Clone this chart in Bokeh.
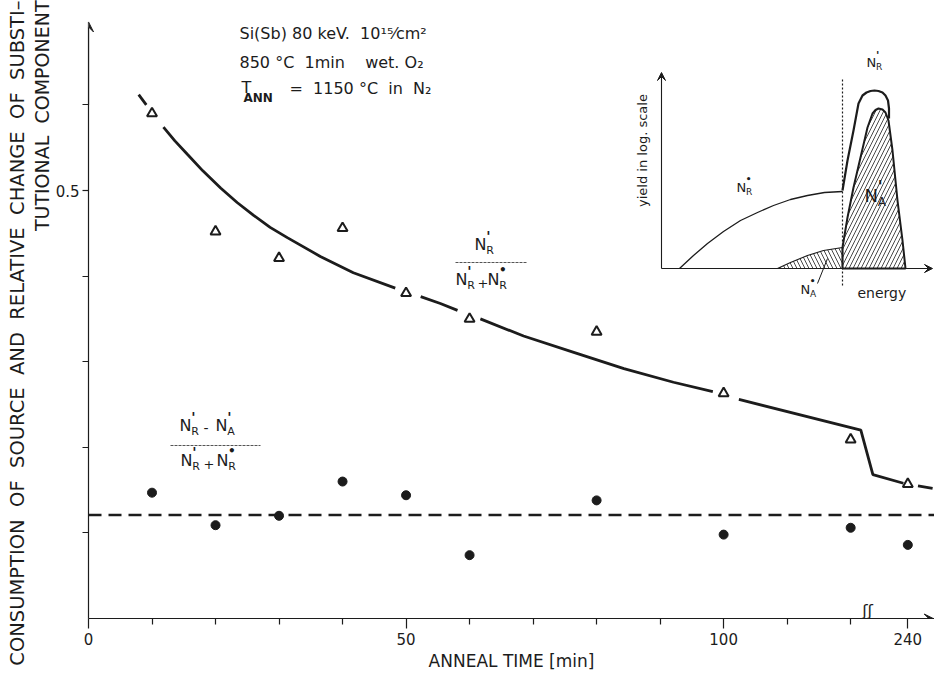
import math
import numpy as np
from bokeh.plotting import figure
from bokeh.models import (Range1d, FixedTicker, Arrow, VeeHead, Span, Title,
                          ColumnDataSource)
from bokeh.core.properties import value
from bokeh.embed import file_html
from bokeh.resources import INLINE

# ---------------- data ----------------
anneal_time = [10, 20, 30, 40, 50, 60, 80, 100, 120, 240]          # min
subst_ratio = [0.590, 0.452, 0.421, 0.456, 0.380, 0.350, 0.335, 0.263, 0.209, 0.157]
source_consumption = [0.147, 0.109, 0.120, 0.160, 0.144, 0.074, 0.138, 0.098, 0.106, 0.086]
mean_consumption = 0.121

# broken time axis: 240 min is drawn at axis position 129
BREAK_AT = 120
POS_240 = 129

# hand-drawn fit curve (axis positions, value); NaN = pen lifted around markers
fit_pos = [7.9, 9.1, np.nan, 11.8, 13.6, 15.6, 18.0, 20.8, 23.4, 26.0, 28.6, 31.3, 36.5,
           41.7, 48.3, np.nan, 52.3, 55.4, 58.1, np.nan, 61.7, 68.5, 76.4, 84.3, 92.1,
           98.3, np.nan, 102.4, 121.6, 123.5, 128.3, np.nan, 130.6, 132.9]
fit_val = [0.612, 0.600, np.nan, 0.574, 0.558, 0.542, 0.523, 0.503, 0.486, 0.471, 0.457,
           0.445, 0.423, 0.404, 0.386, np.nan, 0.376, 0.368, 0.360, np.nan, 0.350, 0.330,
           0.311, 0.292, 0.276, 0.265, np.nan, 0.256, 0.220, 0.168, 0.158, np.nan, 0.155,
           0.152]

x_tick_pos = [0, 50, 100, POS_240]
x_tick_labels = ["0", "50", "100", "240"]
x_minor_pos = [10, 20, 30, 40, 60, 70, 80, 90, 110, 120]
y_tick_pos = [0.5]
y_tick_labels = ["0.5"]
y_minor_pos = [0.1, 0.2, 0.3, 0.4, 0.6]

y_title_1 = "CONSUMPTION  OF  SOURCE  AND  RELATIVE  CHANGE  OF  SUBSTI\u2013"
y_title_2 = "TUTIONAL  COMPONENT"
x_title = "ANNEAL TIME [min]"

# inset schematic (energy spectrum, arbitrary units)
inset_nr_star_u = [18, 32, 46, 62, 79, 96, 112, 129, 146, 163, 181]
inset_nr_star_v = [0, 13, 25, 37, 48, 56, 63, 69, 73, 76, 77]
inset_nr_prime_u = [181, 186, 192, 197, 201, 205, 209, 213, 217, 221, 224, 226.5, 227.5, 227.5]
inset_nr_prime_v = [78, 108, 138, 165, 173, 176, 177.5, 178, 177.5, 176, 173, 168, 160, 150]
inset_na_prime_u = [181, 186, 192, 199, 206, 211, 214, 217, 221, 224, 227, 231, 236, 241, 244, 181]
inset_na_prime_v = [21, 51, 81, 111, 141, 155, 158.5, 160, 159, 156, 148, 118, 68, 28, 0, 0]
inset_na_star_u = [116, 129, 146, 162, 181, 181]
inset_na_star_v = [0, 6, 13, 18, 21, 0]
inset_edge_u = 181

FONT = "DejaVu Sans"
INK = "#1c1c1c"


def axis_pos(t):
    return t if t <= BREAK_AT else POS_240


def nb(s):
    # keep the wide word spacing of the lettering
    return s.replace("  ", " \u00a0")


xpos = [axis_pos(t) for t in anneal_time]

p = figure(width=934, height=674, output_backend="svg", toolbar_location=None,
           x_range=Range1d(0, 133.2), y_range=Range1d(0, 0.722),
           min_border_left=88, min_border_right=0, min_border_top=0, min_border_bottom=56,
           background_fill_color="white", border_fill_color="white")
p.outline_line_color = None
p.grid.visible = False

# pixel-like helper ranges for annotations / inset
p.extra_x_ranges = {"sx": Range1d(88, 934), "ix": Range1d(-573, 273)}
p.extra_y_ranges = {"sy": Range1d(618, 0), "iy": Range1d(-350, 268)}

# ---- axes ----
xa = p.xaxis[0]
xa.ticker = FixedTicker(ticks=x_tick_pos, minor_ticks=x_minor_pos)
xa.major_label_overrides = {k: v for k, v in zip(x_tick_pos, x_tick_labels)}
xa.major_tick_in = 0
xa.major_tick_out = 10
xa.minor_tick_in = 0
xa.minor_tick_out = 6
xa.axis_line_color = INK
xa.axis_line_width = 1.2
xa.major_tick_line_color = INK
xa.minor_tick_line_color = INK
xa.major_tick_line_width = 1.2
xa.minor_tick_line_width = 1.2
xa.major_label_text_font = FONT
xa.major_label_text_font_size = "15px"
xa.major_label_text_color = INK
xa.major_label_standoff = 4
xa.axis_label = x_title
xa.axis_label_text_font = FONT
xa.axis_label_text_font_size = "17px"
xa.axis_label_text_font_style = "normal"
xa.axis_label_text_color = INK
xa.axis_label_standoff = 3

ya = p.yaxis[0]
ya.ticker = FixedTicker(ticks=y_tick_pos, minor_ticks=y_minor_pos)
ya.major_label_overrides = {k: v for k, v in zip(y_tick_pos, y_tick_labels)}
ya.major_tick_in = 0
ya.major_tick_out = 6
ya.minor_tick_in = 0
ya.minor_tick_out = 6
ya.bounds = (0, 0.69)
ya.axis_line_color = INK
ya.axis_line_width = 1.2
ya.major_tick_line_color = INK
ya.minor_tick_line_color = INK
ya.major_tick_line_width = 1.2
ya.minor_tick_line_width = 1.2
ya.major_label_text_font = FONT
ya.major_label_text_font_size = "15px"
ya.major_label_text_color = INK
ya.major_label_standoff = 3

# two-line y title (inner line first, then outer)
for txt, fs in ((y_title_2, "19px"), (y_title_1, "19.5px")):
    p.add_layout(Title(text=nb(txt), align="right", text_font=FONT,
                       text_font_size=fs, text_font_style="normal",
                       text_color=INK, standoff=0, offset=0), "left")

p.add_layout(Arrow(end=VeeHead(size=10, line_color=INK, fill_color=INK, line_width=1),
                   x_start=0, y_start=0.6, x_end=0, y_end=0.697,
                   line_color=INK, line_width=1.2))
p.add_layout(Arrow(end=VeeHead(size=9, line_color=INK, fill_color=INK, line_width=1),
                   x_start=128, y_start=0, x_end=133, y_end=0,
                   line_color=INK, line_width=1.2))

# axis break symbol (kept just above the axis line so it is not clipped)
p.text(x=[867], y=[610], text=["\u0283\u0283"], x_range_name="sx", y_range_name="sy",
       text_font=value(FONT), text_font_size="16px", text_align="center",
       text_baseline="middle", text_color=INK)

# ---- data ----
p.add_layout(Span(location=mean_consumption, dimension="width", line_color=INK,
                  line_width=2.6, line_dash="13 7"))
p.line(fit_pos, fit_val, line_color=INK, line_width=2.8)
p.scatter(xpos, source_consumption, marker="circle", size=9, fill_color=INK,
          line_color=INK)
p.scatter(xpos, subst_ratio, marker="triangle", size=10, fill_color="white",
          line_color=INK, line_width=2)

# ---- text annotations (image-pixel helper coordinates) ----
items = []
marks = []


def nsym(x, y, mark, sub, big=16):
    items.append((x, y, "N", f"{big}px"))
    if mark == "'":
        marks.append((x + 0.74 * big, y - 0.52 * big, mark, f"{int(big * 0.9)}px"))
    else:
        marks.append((x + 0.72 * big, y - 0.62 * big, mark, f"{int(big * 0.75)}px"))
    items.append((x + 0.74 * big, y + 0.38 * big, sub, f"{int(big * 0.72)}px"))


items.append((239, 33, nb("Si(Sb) 80 keV.  10\u00b9\u2075\u2044cm\u00b2"), "16px"))
items.append((239, 62, nb("850 \u00b0C  1min    wet. O\u2082"), "16px"))
items.append((241, 87, "T", "16px"))
items.append((289, 88, nb("=  1150 \u00b0C  in  N\u2082"), "16px"))

# upper fraction N'_R / (N'_R + N*_R)
nsym(474, 244, "'", "R")
nsym(455, 279, "'", "R")
items.append((477, 283, "+", "13px"))
nsym(487, 279, "\u2022", "R")
# lower fraction (N'_R - N'_A) / (N'_R + N*_R)
nsym(179, 425, "'", "R")
items.append((203, 427, "-", "14px"))
nsym(215, 425, "'", "A")
nsym(180, 460, "'", "R")
items.append((203, 464, "+", "13px"))
nsym(216, 460, "\u2022", "R")
# inset labels
nsym(736, 187, "\u2022", "R", 13)
nsym(866, 62, "'", "R", 13)
nsym(864, 195, "'", "A", 18)
nsym(800, 289, "\u2022", "A", 13)
items.append((857, 292, "energy", "14px"))

src = ColumnDataSource(dict(x=[i[0] for i in items], y=[i[1] for i in items],
                            text=[i[2] for i in items], size=[i[3] for i in items]))
p.text(x="x", y="y", text="text", text_font_size="size", source=src,
       x_range_name="sx", y_range_name="sy", text_font=value(FONT),
       text_align="left", text_baseline="middle", text_color=INK)
msrc = ColumnDataSource(dict(x=[i[0] for i in marks], y=[i[1] for i in marks],
                             text=[i[2] for i in marks], size=[i[3] for i in marks]))
p.text(x="x", y="y", text="text", text_font_size="size", source=msrc,
       x_range_name="sx", y_range_name="sy", text_font=value(FONT),
       text_font_style="bold", text_align="left", text_baseline="middle",
       text_color=INK)
p.text(x=[243], y=[97], text=["ANN"], x_range_name="sx", y_range_name="sy",
       text_font=value(FONT), text_font_size="12px", text_font_style="bold",
       text_align="left", text_baseline="middle", text_color=INK)

# fraction bars
p.segment(x0=[455, 170], y0=[262, 445], x1=[527, 260], y1=[262, 445],
          x_range_name="sx", y_range_name="sy", line_color="#555", line_width=1,
          line_dash="3 1")
# inset leader line
p.segment(x0=[817], y0=[283], x1=[827], y1=[258], x_range_name="sx", y_range_name="sy",
          line_color=INK, line_width=1)

# ---- inset ----
p.text(x=[642], y=[150], text=["yield in log. scale"], angle=math.pi / 2,
       x_range_name="sx", y_range_name="sy", text_font=value(FONT),
       text_font_size="13px", text_align="center", text_baseline="middle",
       text_color=INK)
p.add_layout(Arrow(end=VeeHead(size=8, line_color=INK, fill_color=INK, line_width=1),
                   x_start=0, y_start=0, x_end=0, y_end=196,
                   x_range_name="ix", y_range_name="iy", line_color=INK, line_width=1.1))
p.add_layout(Arrow(end=VeeHead(size=8, line_color=INK, fill_color=INK, line_width=1),
                   x_start=0, y_start=0, x_end=271, y_end=0,
                   x_range_name="ix", y_range_name="iy", line_color=INK, line_width=1.1))
p.patch(inset_na_star_u, inset_na_star_v, x_range_name="ix", y_range_name="iy",
        fill_alpha=0, hatch_pattern="\\", hatch_color=INK, hatch_scale=8,
        hatch_weight=0.8, line_color=INK, line_width=1.2)
p.patch(inset_na_prime_u, inset_na_prime_v, x_range_name="ix", y_range_name="iy",
        fill_alpha=0, hatch_pattern="/", hatch_color=INK, hatch_scale=8,
        hatch_weight=0.8, line_color=INK, line_width=2)
p.line(inset_nr_star_u, inset_nr_star_v, x_range_name="ix", y_range_name="iy",
       line_color=INK, line_width=1.3)
p.line(inset_nr_prime_u, inset_nr_prime_v, x_range_name="ix", y_range_name="iy",
       line_color=INK, line_width=2.2)
p.line([inset_edge_u, inset_edge_u], [-17, 190], x_range_name="ix", y_range_name="iy",
       line_color=INK, line_width=1.2, line_dash="2 2")

open("out.html", "w").write(file_html(p, INLINE))
